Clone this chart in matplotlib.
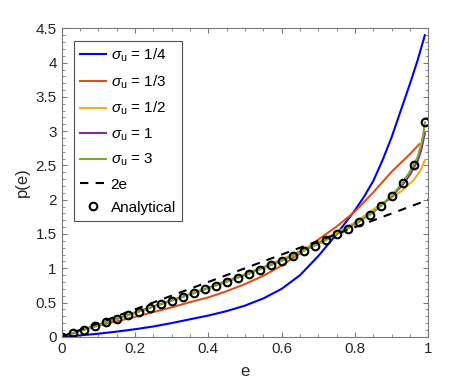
import matplotlib
matplotlib.use("Agg")
import matplotlib.pyplot as plt
import numpy as np
from matplotlib.ticker import MultipleLocator

plt.rcParams['font.family'] = ['Liberation Sans', 'DejaVu Sans']
plt.rcParams['mathtext.fontset'] = 'custom'
plt.rcParams['mathtext.rm'] = 'Liberation Sans'
plt.rcParams['mathtext.it'] = 'Liberation Sans:italic'

# Кривые для разных sigma_u
e_blue = [0, 0.05, 0.1, 0.15, 0.2, 0.25, 0.3, 0.35, 0.4, 0.45, 0.5, 0.55, 0.6, 0.65,
          0.7, 0.75, 0.8, 0.825, 0.85, 0.875, 0.9, 0.925, 0.95, 0.97, 0.99]
p_blue = [0, 0.02, 0.045, 0.075, 0.11, 0.15, 0.2, 0.255, 0.31, 0.375, 0.455, 0.56, 0.70, 0.90,
          1.18, 1.50, 1.85, 2.05, 2.28, 2.58, 2.92, 3.31, 3.70, 4.03, 4.40]

e_orange = [0, 0.05, 0.1, 0.15, 0.2, 0.25, 0.3, 0.35, 0.4, 0.45, 0.5, 0.55, 0.6, 0.65,
            0.7, 0.75, 0.8, 0.85, 0.9, 0.95, 0.975]
p_orange = [0, 0.085, 0.165, 0.225, 0.29, 0.36, 0.43, 0.505, 0.575, 0.665, 0.77, 0.89, 1.04, 1.22,
            1.42, 1.61, 1.83, 2.11, 2.41, 2.67, 2.81]

e_yellow = [0, 0.1, 0.2, 0.3, 0.4, 0.5, 0.6, 0.7, 0.75, 0.8, 0.85, 0.9, 0.93, 0.96, 0.98, 0.99]
p_yellow = [0, 0.178, 0.355, 0.535, 0.72, 0.915, 1.13, 1.38, 1.52, 1.67, 1.86, 2.03, 2.14, 2.29, 2.44, 2.575]

e_purple = [0, 0.1, 0.2, 0.3, 0.4, 0.5, 0.6, 0.7, 0.75, 0.8, 0.85, 0.9, 0.93, 0.95, 0.97, 0.98, 0.99]
p_purple = [0, 0.176, 0.351, 0.529, 0.711, 0.903, 1.112, 1.36, 1.497, 1.645, 1.82, 2.05, 2.22, 2.37, 2.56, 2.72, 2.97]

e_green = [0, 0.1, 0.2, 0.3, 0.4, 0.5, 0.6, 0.7, 0.75, 0.8, 0.85, 0.9, 0.93, 0.95, 0.97, 0.98, 0.985, 0.99]
p_green = [0, 0.175, 0.35, 0.528, 0.709, 0.90, 1.108, 1.357, 1.495, 1.643, 1.823, 2.06, 2.25, 2.42, 2.62, 2.80, 2.93, 3.13]

# Аналитическое решение (маркеры)
e_an = [0.00, 0.03, 0.06, 0.09, 0.12, 0.15, 0.18, 0.21, 0.24, 0.27, 0.30, 0.33,
        0.36, 0.39, 0.42, 0.45, 0.48, 0.51, 0.54, 0.57, 0.60, 0.63, 0.66, 0.69,
        0.72, 0.75, 0.78, 0.81, 0.84, 0.87, 0.90, 0.93, 0.96, 0.99]
p_an = [0, 0.052, 0.105, 0.157, 0.21, 0.262, 0.315, 0.368, 0.421, 0.475, 0.528, 0.582,
        0.636, 0.69, 0.746, 0.802, 0.86, 0.919, 0.98, 1.043, 1.108, 1.176, 1.25, 1.33,
        1.41, 1.495, 1.58, 1.675, 1.78, 1.91, 2.05, 2.245, 2.51, 3.13]

e_lin = [0, 1]
p_lin = [0, 2]

x_ticks = [0, 0.2, 0.4, 0.6, 0.8, 1]
x_labels = ['0', '0.2', '0.4', '0.6', '0.8', '1']
y_ticks = [0, 0.5, 1, 1.5, 2, 2.5, 3, 3.5, 4, 4.5]
y_labels = ['0', '0.5', '1', '1.5', '2', '2.5', '3', '3.5', '4', '4.5']

fig = plt.figure(figsize=(4.74, 3.84), dpi=100)
ax = fig.add_axes([0.130, 0.123, 0.774, 0.803])

lw = 1.5
ax.plot(e_blue, p_blue, color='#0000ff', lw=lw, label=r'$\sigma_{\mathrm{u}}$ = 1/4')
ax.plot(e_orange, p_orange, color='#D95319', lw=lw, label=r'$\sigma_{\mathrm{u}}$ = 1/3')
ax.plot(e_yellow, p_yellow, color='#EDB120', lw=lw, label=r'$\sigma_{\mathrm{u}}$ = 1/2')
ax.plot(e_purple, p_purple, color='#7E2F8E', lw=lw, label=r'$\sigma_{\mathrm{u}}$ = 1')
ax.plot(e_green, p_green, color='#77AC30', lw=lw, label=r'$\sigma_{\mathrm{u}}$ = 3')
ax.plot(e_lin, p_lin, 'k--', lw=lw, dashes=(4, 3.5), label='2e')
ax.plot(e_an, p_an, 'o', mfc='none', mec='k', mew=1.5, ms=5.5, label='Analytical')

ax.set_xlim(0, 1)
ax.set_ylim(0, 4.5)
ax.set_xticks(x_ticks)
ax.set_xticklabels(x_labels)
ax.set_yticks(y_ticks)
ax.set_yticklabels(y_labels)
ax.xaxis.set_minor_locator(MultipleLocator(0.05))
ax.yaxis.set_minor_locator(MultipleLocator(0.1))

ax.tick_params(which='both', direction='in', top=True, right=True,
               colors='#7a7a7a', labelcolor='#262626', labelsize=11)
ax.tick_params(which='major', length=3.5, width=0.8)
ax.tick_params(which='minor', length=2, width=0.6)
for s in ax.spines.values():
    s.set_color('#7a7a7a')
    s.set_linewidth(0.8)

ax.set_xlabel('e', fontsize=12, color='#262626', labelpad=6)
ax.set_ylabel('p(e)', fontsize=12, color='#262626')

leg = ax.legend(loc='upper left', fontsize=11, frameon=True, fancybox=False,
                borderaxespad=0.8, handlelength=1.7, handletextpad=0.3,
                labelspacing=0.6, borderpad=0.4)
leg.get_frame().set_edgecolor('#262626')
leg.get_frame().set_linewidth(0.8)

fig.savefig('out.png', dpi=100)
